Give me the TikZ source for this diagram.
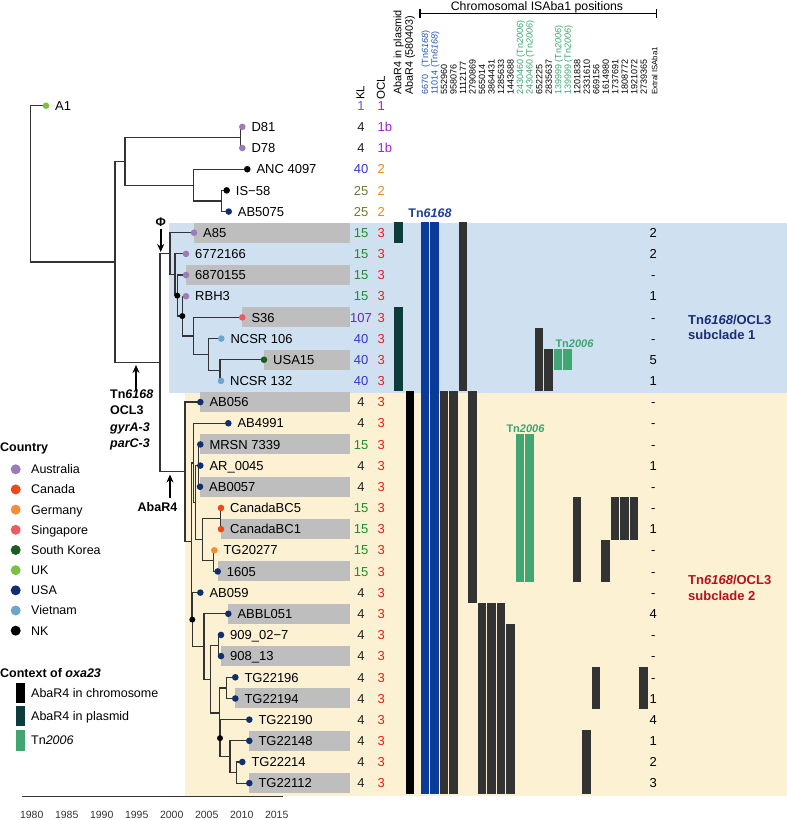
\documentclass[tikz,border=0pt]{standalone}
\usepackage{fontspec}
\setmainfont{Liberation Sans}
\usetikzlibrary{arrows.meta}
\definecolor{bgblue}{HTML}{CFE1F0}
\definecolor{bgyellow}{HTML}{FCF1D2}
\definecolor{boxgray}{HTML}{BEBEBE}
\definecolor{branchc}{HTML}{333333}
\definecolor{cAU}{HTML}{9B7CB8}
\definecolor{cCA}{HTML}{EE4A18}
\definecolor{cDE}{HTML}{F58C3A}
\definecolor{cSG}{HTML}{EE5A62}
\definecolor{cKR}{HTML}{1B5E22}
\definecolor{cUK}{HTML}{7DC142}
\definecolor{cUS}{HTML}{0F2F6E}
\definecolor{cVN}{HTML}{6BA5D0}
\definecolor{cNK}{HTML}{000000}
\definecolor{kB}{HTML}{222222}
\definecolor{klA}{HTML}{5B5BDF}
\definecolor{kBl}{HTML}{3535D0}
\definecolor{kG}{HTML}{1E8C2C}
\definecolor{kOl}{HTML}{6B7A2F}
\definecolor{kP}{HTML}{6628B5}
\definecolor{oP}{HTML}{A020D8}
\definecolor{oO}{HTML}{E68A1C}
\definecolor{oR}{HTML}{E3211C}
\definecolor{barblue}{HTML}{0B3B98}
\definecolor{bargray}{HTML}{333333}
\definecolor{barteal}{HTML}{0D3D3A}
\definecolor{bargreen}{HTML}{40A672}
\definecolor{labblue}{HTML}{2255BB}
\definecolor{labgreen}{HTML}{3AA672}
\definecolor{tnblue}{HTML}{1F3F9A}
\definecolor{subone}{HTML}{1C2C7A}
\definecolor{subtwo}{HTML}{B5121B}
\newcommand\colbar[4]{\fill[#4] ({420+(#1-1)*9.52+0.5},{222.1+21.17*#2}) rectangle ({420+#1*9.52-0.5},{222.1+21.17*(#3+1)});}
\begin{document}
\begin{tikzpicture}[x=1pt,y=-1pt,
  branch/.style={draw=branchc,line width=1.2pt},
  tiplab/.style={font=\fontsize{13}{13}\selectfont,inner sep=0pt,text height=9.4pt,text depth=0pt},
  numlab/.style={font=\fontsize{13}{13}\selectfont,inner sep=0pt,text height=9.4pt,text depth=0pt},
  hdr/.style={font=\fontsize{11.5}{11.5}\selectfont,inner sep=0pt,rotate=90,anchor=west},
  poslab/.style={font=\fontsize{9}{9}\selectfont,inner sep=0pt,rotate=90,anchor=west,text height=6.5pt,text depth=0pt},
  legtitle/.style={font=\bfseries\fontsize{12.5}{12.5}\selectfont,inner sep=0pt,text height=9pt,text depth=0pt},
  leglab/.style={font=\fontsize{12.5}{12.5}\selectfont,inner sep=0pt,text height=9pt,text depth=0pt},
  annot/.style={font=\bfseries\fontsize{12.5}{12.5}\selectfont,inner sep=0pt,text height=9pt,text depth=0pt},
  arr/.style={line width=1.6pt,-{Stealth[length=8pt,width=7pt]}},
  ]
\useasboundingbox (0,0) rectangle (787,820);
% backgrounds
\fill[bgblue] (169.3,222.7) rectangle (787,393.3);
\fill[bgyellow] (185.3,393.3) rectangle (787,795.5);
% tips
\foreach \id/\k/\dx/\cc/\lab/\bx/\kl/\klc/\ocl/\oclc in {
 a1/0/46/cUK/A1/0/1/klA/1/oP,
 d81/1/242.3/cAU/D81/0/4/kB/1b/oP,
 d78/2/242.3/cAU/D78/0/4/kB/1b/oP,
 anc/3/247.3/cNK/ANC 4097/0/40/kBl/2/oO,
 isf/4/226.7/cNK/IS−58/0/25/kOl/2/oO,
 abf/5/228.7/cUS/AB5075/0/25/kOl/2/oO,
 aes/6/194/cAU/A85/1/15/kG/3/oR,
 sss/7/186/cAU/6772166/0/15/kG/3/oR,
 seo/8/186/cAU/6870155/1/15/kG/3/oR,
 rbh/9/186/cAU/RBH3/0/15/kG/3/oR,
 sts/10/242.3/cSG/S36/1/107/kP/3/oR,
 nco/11/221.3/cVN/NCSR 106/0/40/kBl/3/oR,
 usa/12/264/cKR/USA15/1/40/kBl/3/oR,
 nct/13/221/cVN/NCSR 132/0/40/kBl/3/oR,
 abo/14/200.3/cUS/AB056/1/4/kB/3/oR,
 abn/15/228.3/cUS/AB4991/0/4/kB/3/oR,
 mrs/16/200.3/cUS/MRSN 7339/1/15/kG/3/oR,
 arz/17/200.3/cUS/AR\_0045/0/4/kB/3/oR,
 abz/18/200/cUS/AB0057/1/4/kB/3/oR,
 cbf/19/221/cCA/CanadaBC5/0/15/kG/3/oR,
 cbo/20/221/cCA/CanadaBC1/1/15/kG/3/oR,
 tgt/21/214.3/cDE/TG20277/0/15/kG/3/oR,
 sxo/22/217.7/cUS/1605/1/15/kG/3/oR,
 abfn/23/200.3/cUS/AB059/0/4/kB/3/oR,
 abb/24/228.3/cUS/ABBL051/1/4/kB/3/oR,
 nzn/25/221/cUS/909\_02−7/0/4/kB/3/oR,
 nze/26/221/cUS/908\_13/1/4/kB/3/oR,
 tga/27/235.3/cUS/TG22196/0/4/kB/3/oR,
 tgb/28/235.3/cUS/TG22194/1/4/kB/3/oR,
 tgc/29/249.3/cUS/TG22190/0/4/kB/3/oR,
 tgd/30/249.3/cUS/TG22148/1/4/kB/3/oR,
 tge/31/242.3/cUS/TG22214/0/4/kB/3/oR,
 tgf/32/249.3/cUS/TG22112/1/4/kB/3/oR}{
  \coordinate (t\id) at (\dx,{105.7+21.17*\k});
  \ifnum\bx=1 \fill[boxgray] (\dx,{105.7+21.17*\k-10}) rectangle (350,{105.7+21.17*\k+10});\fi
  \node[tiplab,anchor=west] (l\id) at ({\dx+9},{105.7+21.17*\k}) {\lab};
  \node[numlab,text=\klc] (k\id) at (361,{105.7+21.17*\k}) {\kl};
  \node[numlab,text=\oclc,anchor=west] (o\id) at (377.5,{105.7+21.17*\k}) {\ocl};
}
% internal nodes
\coordinate (X4) at (221.7,201.0);
\coordinate (X3) at (193.3,185.1);
\coordinate (D) at (240.7,137.45);
\coordinate (X2) at (125,161.3);
\coordinate (N7) at (220,370.3);
\coordinate (N6) at (208.3,354.45);
\coordinate (N5) at (193.3,335.9);
\coordinate (N4) at (182.3,316.05);
\coordinate (N3) at (177.3,295.6);
\coordinate (N2) at (175,274.75);
\coordinate (N1) at (170,253.7);
\coordinate (G) at (198.3,465.6);
\coordinate (P3) at (220.7,518.5);
\coordinate (P4) at (213.3,560.85);
\coordinate (U3) at (202.3,539.7);
\coordinate (U2) at (195.5,502.65);
\coordinate (U1) at (193.3,462.95);
\coordinate (P1) at (226.7,687.9);
\coordinate (L7) at (236.7,772.55);
\coordinate (L6) at (230,756.7);
\coordinate (L5) at (220,738.15);
\coordinate (L4) at (219.3,713.0);
\coordinate (P2) at (218.3,645.55);
\coordinate (L3) at (210.7,679.3);
\coordinate (L2) at (204,646.55);
\coordinate (L1) at (192.3,619.6);
\coordinate (M2) at (191.7,541.3);
\coordinate (M1) at (185,471.7);
\coordinate (T) at (160,362.7);
\coordinate (X1) at (115,262.0);
\coordinate (R) at (30.7,183.85);
\draw[branch] (R) |- (ta1) (R) |- (X1)
 (X1) |- (X2) (X1) |- (T)
 (X2) |- (D) (X2) |- (X3)
 (D) |- (td81) (D) |- (td78)
 (X3) |- (tanc) (X3) |- (X4)
 (X4) |- (tisf) (X4) |- (tabf)
 (T) |- (N1) (T) |- (M1)
 (N1) |- (taes) (N1) |- (N2)
 (N2) |- (tsss) (N2) |- (N3)
 (N3) |- (tseo) (N3) |- (N4)
 (N4) |- (trbh) (N4) |- (N5)
 (N5) |- (tsts) (N5) |- (N6)
 (N6) |- (tnco) (N6) |- (N7)
 (N7) |- (tusa) (N7) |- (tnct)
 (M1) |- (tabo) (M1) |- (M2)
 (M2) |- (U1) (M2) |- (L1)
 (U1) |- (tabn) (U1) |- (U2)
 (U2) |- (G) (U2) |- (U3)
 (G) |- (tmrs) (G) |- (tarz) (G) |- (tabz)
 (U3) |- (P3) (U3) |- (P4)
 (P3) |- (tcbf) (P3) |- (tcbo)
 (P4) |- (ttgt) (P4) |- (tsxo)
 (L1) |- (tabfn) (L1) |- (L2)
 (L2) |- (tabb) (L2) |- (L3)
 (L3) |- (P2) (L3) |- (L4)
 (P2) |- (tnzn) (P2) |- (tnze)
 (L4) |- (P1) (L4) |- (L5)
 (P1) |- (ttga) (P1) |- (ttgb)
 (L5) |- (ttgc) (L5) |- (L6)
 (L6) |- (ttgd) (L6) |- (L7)
 (L7) |- (ttge) (L7) |- (ttgf);
% dots
\foreach \id/\cc in {a1/cUK,d81/cAU,d78/cAU,anc/cNK,isf/cNK,abf/cUS,aes/cAU,sss/cAU,seo/cAU,rbh/cAU,sts/cSG,nco/cVN,usa/cKR,nct/cVN,abo/cUS,abn/cUS,mrs/cUS,arz/cUS,abz/cUS,cbf/cCA,cbo/cCA,tgt/cDE,sxo/cUS,abfn/cUS,abb/cUS,nzn/cUS,nze/cUS,tga/cUS,tgb/cUS,tgc/cUS,tgd/cUS,tge/cUS,tgf/cUS}{
  \fill[\cc] (t\id) circle (3.3);
}
\foreach \p in {N3,N4,L1,L5}{\fill[black] (\p) circle (3);}
% column headers
\node[hdr] (hkl) at (360.5,100) {KL};
\node[hdr] (hocl) at (381,100) {OCL};
\node[hdr,font=\fontsize{10.8}{10.8}\selectfont] (hpl) at (398.5,95) {AbaR4 in plasmid};
\node[hdr,font=\fontsize{10.8}{10.8}\selectfont] (hch) at (410,95) {AbaR4 (580403)};
\foreach \j/\t/\c in {1/6670\phantom{0} (Tn\textit{6168})/labblue,2/11014 (Tn\textit{6168})/labblue,3/552960/black,4/958076/black,5/1112177/black,6/2790869/black,7/565014/black,8/3864431/black,9/1285633/black,10/1443688/black,11/2430460 (Tn\textit{2006})/labgreen,12/2430460 (Tn\textit{2006})/labgreen,13/652225/black,14/2835637/black,15/139999 (Tn\textit{2006})/labgreen,16/139999 (Tn\textit{2006})/labgreen,17/1201838/black,18/2331610/black,19/669156/black,20/1614980/black,21/1737691/black,22/1808772/black,23/1921072/black,24/2739365/black}{
  \node[poslab,text=\c] (pl\j) at ({420+(\j-0.5)*9.52},95) {\t};
}
\node[poslab,font=\fontsize{7.8}{7.8}\selectfont] (plx) at (654,95) {Extral ISAba1};
\node[inner sep=0pt,anchor=base,font=\fontsize{12.3}{12.3}\selectfont] (chr) at (537,10) {Chromosomal ISAba1 positions};
\coordinate (brl) at (420,13.3);
\coordinate (brr) at (656.7,13.3);
\draw[line width=1.2pt] (brl) -- (brr);
\draw[line width=1.2pt] ([yshift=-4.5pt]brl) -- ([yshift=4.5pt]brl);
\draw[line width=1.2pt] ([yshift=-4.5pt]brr) -- ([yshift=4.5pt]brr);
% bars
\fill[barteal] (394,222.1) rectangle (402.7,243.27);
\fill[barteal] (394,{222.1+21.17*4}) rectangle (402.7,{222.1+21.17*8});
\fill[black] (405.7,{222.1+21.17*8}) rectangle (414.3,{222.1+21.17*27});
\colbar{1}{0}{26}{barblue}
\colbar{2}{0}{26}{barblue}
\colbar{3}{8}{26}{bargray}
\colbar{4}{8}{26}{bargray}
\colbar{5}{0}{7}{bargray}
\colbar{6}{8}{17}{bargray}
\colbar{7}{18}{26}{bargray}
\colbar{8}{18}{26}{bargray}
\colbar{9}{18}{26}{bargray}
\colbar{10}{19}{26}{bargray}
\colbar{11}{10}{16}{bargreen}
\colbar{12}{10}{16}{bargreen}
\colbar{13}{5}{7}{bargray}
\colbar{14}{6}{7}{bargray}
\colbar{15}{6}{6}{bargreen}
\colbar{16}{6}{6}{bargreen}
\colbar{17}{13}{16}{bargray}
\colbar{18}{24}{26}{bargray}
\colbar{19}{21}{22}{bargray}
\colbar{20}{15}{16}{bargray}
\colbar{21}{13}{14}{bargray}
\colbar{22}{13}{14}{bargray}
\colbar{23}{13}{14}{bargray}
\colbar{24}{21}{22}{bargray}
\node[inner sep=0pt,font=\bfseries\fontsize{12.5}{12.5}\selectfont,text=tnblue] (tnl) at (430,213.5) {Tn\textit{6168}};
\node[inner sep=0pt,font=\bfseries\fontsize{11}{11}\selectfont,text=labgreen] (tna) at (574.5,343.3) {Tn\textit{2006}};
\node[inner sep=0pt,font=\bfseries\fontsize{11}{11}\selectfont,text=labgreen] (tnb) at (525.5,428.3) {Tn\textit{2006}};
% extra ISAba1 counts
\foreach \v [count=\i from 6] in {2,2,-,1,-,-,5,1,-,-,-,1,-,-,1,-,-,-,4,-,-,-,1,4,1,2,3}{
  \node[numlab] (ex\i) at (653.3,{105.7+21.17*\i}) {\v};
}
% subclade labels
\node[inner sep=0pt,anchor=north west,align=left,font=\bfseries\fontsize{13}{15}\selectfont,text=subone] (sc1) at (688,315) {Tn\textit{6168}/OCL3\\subclade 1};
\node[inner sep=0pt,anchor=north west,align=left,font=\bfseries\fontsize{13}{15.5}\selectfont,text=subtwo] (sc2) at (688,575) {Tn\textit{6168}/OCL3\\subclade 2};
% annotations
\node[annot,anchor=west] (an1) at (110,394.3) {Tn\textit{6168}};
\node[annot,anchor=west] (an2) at (110,410.3) {OCL3};
\node[annot,anchor=west] (an3) at (110,426.5) {\textit{gyrA-3}};
\node[annot,anchor=west] (an4) at (110,442.6) {\textit{parC-3}};
\coordinate (ar1s) at (136,391);
\coordinate (ar1e) at (136,365);
\draw[arr] (ar1s) -- (ar1e);
\node[annot] (an5) at (157.5,507.3) {AbaR4};
\coordinate (ar2s) at (170,498);
\coordinate (ar2e) at (170,474.5);
\draw[arr] (ar2s) -- (ar2e);
\node[annot] (phi) at (160.7,222) {Φ};
\coordinate (ar3s) at (160.7,228.5);
\coordinate (ar3e) at (160.7,252);
\draw[arr] (ar3s) -- (ar3e);
% legend
\node[legtitle,anchor=west] (lgc) at (0,446.7) {Country};
\foreach \c/\n [count=\i from 0] in {cAU/Australia,cCA/Canada,cDE/Germany,cSG/Singapore,cKR/South Korea,cUK/UK,cUS/USA,cVN/Vietnam,cNK/NK}{
  \fill[\c] (15.7,{469.3+20.17*\i}) circle (5);
  \node[leglab,anchor=west] (lg\i) at (31,{469.3+20.17*\i}) {\n};
}
\node[legtitle,anchor=west] (lgx) at (0,672.7) {Context of \textit{oxa23}};
\fill[black] (16,683.3) rectangle (25,703.3);
\fill[barteal] (16,706) rectangle (25,726);
\fill[bargreen] (16,730) rectangle (25,751);
\node[leglab,anchor=west] (lx1) at (31,693.3) {AbaR4 in chromosome};
\node[leglab,anchor=west] (lx2) at (31,716.3) {AbaR4 in plasmid};
\node[leglab,anchor=west] (lx3) at (31,739.5) {Tn\textit{2006}};
% axis
\coordinate (axl) at (21.7,796.7);
\coordinate (axr) at (283.3,796.7);
\draw[branchc,line width=0.9pt] (axl) -- (axr);
\foreach \yr [count=\i from 0] in {1980,1985,1990,1995,2000,2005,2010,2015}{
  \node[inner sep=0pt,font=\fontsize{10.5}{10.5}\selectfont,text=branchc] (yr\i) at ({31.7+35*\i},814.5) {\yr};
}
\end{tikzpicture}
\end{document}
